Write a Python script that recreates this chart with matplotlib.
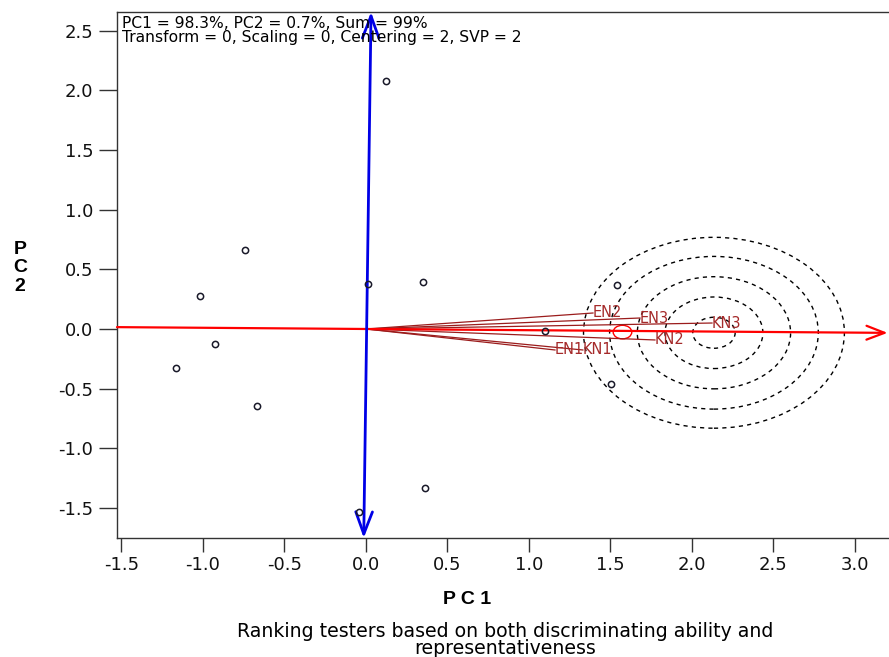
import numpy as np
import matplotlib
matplotlib.use('Agg')
import matplotlib.pyplot as plt
from matplotlib.patches import Circle

plt.rcParams['font.family'] = ['DejaVu Sans']
plt.rcParams['axes.unicode_minus'] = False

# genotype scores (unlabelled points)
gen_pc1 = [0.123, -0.742, -1.018, 0.012, 0.350, -0.926, -1.166, -0.669, 1.098, 1.540, 1.503, 0.362, -0.043]
gen_pc2 = [2.079, 0.662, 0.277, 0.377, 0.394, -0.126, -0.327, -0.645, -0.017, 0.369, -0.461, -1.333, -1.534]

# tester (environment) vectors
testers = ['EN1', 'EN2', 'EN3', 'KN1', 'KN2', 'KN3']
tes_pc1 = [1.160, 1.393, 1.681, 1.331, 1.773, 2.123]
tes_pc2 = [-0.176, 0.134, 0.092, -0.176, -0.092, 0.050]

# average environment and ideal tester rings
avg_env = (1.574, -0.016)
ideal_pc1 = 2.135
ring_radii = [0.13, 0.30, 0.47, 0.64, 0.80]

xticks = [-1.5, -1.0, -0.5, 0.0, 0.5, 1.0, 1.5, 2.0, 2.5, 3.0]
yticks = [-1.5, -1.0, -0.5, 0.0, 0.5, 1.0, 1.5, 2.0, 2.5]

info = ("PC1 = 98.3%, PC2 = 0.7%, Sum = 99%\n"
        "Transform = 0, Scaling = 0, Centering = 2, SVP = 2")

fig = plt.figure(figsize=(8.89, 6.57), dpi=100)
ax = fig.add_axes([117/889, 119/657, 776/889, 526/657])
xlo, xhi = -1.526, 3.233
ylo, yhi = -1.752, 2.657
ax.set_xlim(xlo, xhi)
ax.set_ylim(ylo, yhi)

m = avg_env[1] / avg_env[0]  # slope of average environment axis

# average environment axis (red) with arrow
ax.annotate('', xy=(3.2, 3.2*m), xytext=(xlo, xlo*m),
            arrowprops=dict(arrowstyle='->,head_length=1.3,head_width=0.5',
                            color='red', lw=1.6, mutation_scale=10,
                            shrinkA=0, shrinkB=0))

# perpendicular axis (blue), double headed
ax.annotate('', xy=(-m*yhi + 0.005, yhi), xytext=(-m*ylo + 0.005, ylo),
            arrowprops=dict(arrowstyle='<->,head_length=1.6,head_width=0.6',
                            color='#0000E6', lw=2.0, mutation_scale=10,
                            shrinkA=0, shrinkB=0),
            annotation_clip=False)

# concentric rings around ideal tester
for r in ring_radii:
    ax.add_patch(Circle((ideal_pc1, ideal_pc1*m - 0.01), r, fill=False,
                        ls=(0, (3, 3)), lw=1.0, ec='black'))

# tester vectors
for name, x, y in zip(testers, tes_pc1, tes_pc2):
    ax.plot([0, x], [0, y], color='#9B1C1C', lw=0.9)
    ax.text(x, y, name, ha='left', va='center', color='#A52A2A', fontsize=10.5)

# average environment marker
ax.add_patch(Circle((avg_env[0], avg_env[1] - 0.01), 0.057, fill=False, ec='red', lw=1.0))

# genotypes
ax.plot(gen_pc1, gen_pc2, 'o', mfc='none', mec='#1a1a2a', ms=4.5, mew=1.1, zorder=5)

ax.text(0.0065, 0.993, info, transform=ax.transAxes, va='top', ha='left',
        fontsize=11.2, linespacing=0.95)

ax.set_xticks(xticks)
ax.set_yticks(yticks)
ax.set_xticklabels(['%.1f' % t for t in xticks])
ax.set_yticklabels(['%.1f' % t for t in yticks])
ax.tick_params(axis='x', length=10, width=1, color='#333333', labelsize=13, pad=3,
               labelcolor='#111111')
ax.tick_params(axis='y', length=13, width=1, color='#333333', labelsize=13, pad=4,
               labelcolor='#111111')
for s in ax.spines.values():
    s.set_color('#333333')
    s.set_linewidth(1.0)

fig.text(20/889, 1 - 268/657, 'P\nC\n2', ha='center', va='center',
         fontsize=14, fontweight='bold', linespacing=1.15, family='Liberation Sans')
fig.text(467/889, 1 - 600/657, 'P C 1', ha='center', va='center',
         fontsize=14, fontweight='bold', family='Liberation Sans')
fig.text(505/889, 1 - 640/657,
         'Ranking testers based on both discriminating ability and\nrepresentativeness',
         ha='center', va='center', fontsize=13.6, linespacing=0.9)

fig.savefig('out.png', dpi=100)
